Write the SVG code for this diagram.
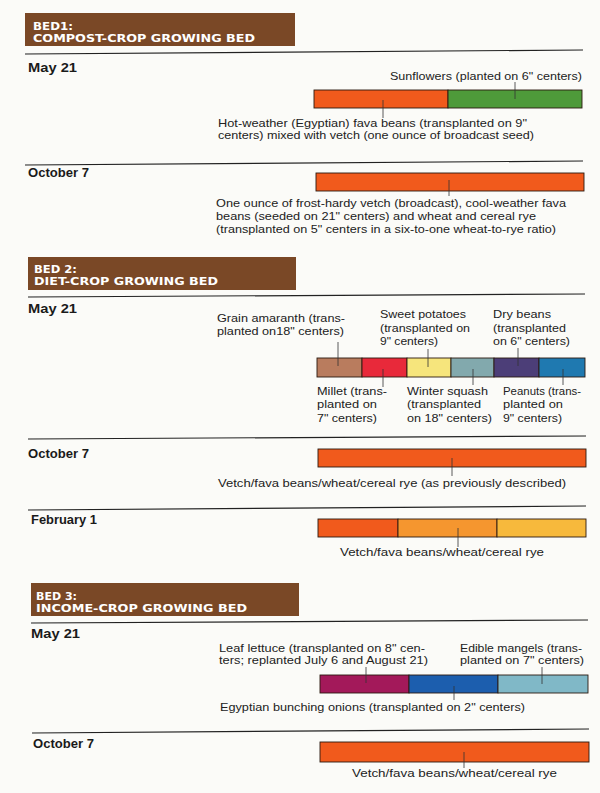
<svg xmlns="http://www.w3.org/2000/svg" width="600" height="793" viewBox="0 0 600 793">
<style>
.bg{fill:#fbfbf8}
.hdr{fill:#7a4826}
.ht{font-family:"DejaVu Sans","Liberation Sans",sans-serif;font-weight:bold;font-size:10px;fill:#ffffff}
.date{font-family:"Liberation Sans",Arial,sans-serif;font-weight:bold;font-size:13px;fill:#1a1a1a}
.lbl{font-family:"Liberation Sans",Arial,sans-serif;font-size:11.5px;fill:#222}
.rule{stroke:#222;stroke-width:1.2;fill:none}
.seg{stroke:#2a1a10;stroke-width:0.9}
.tick{stroke:#333;stroke-width:0.8}
</style>
<rect class="bg" x="0" y="0" width="600" height="793"/>

<g id="bed1-header">
<rect class="hdr" x="25" y="13" width="270" height="33"/>
<text class="ht" x="33" y="29.5" textLength="40" lengthAdjust="spacingAndGlyphs">BED1:</text>
<text class="ht" x="33" y="41.5" textLength="222" lengthAdjust="spacingAndGlyphs">COMPOST-CROP GROWING BED</text>
</g>
<line class="rule" x1="25" y1="54" x2="583" y2="50"/>

<g id="bed1-may">
<text class="date" x="28" y="72" textLength="49" lengthAdjust="spacingAndGlyphs">May 21</text>
<rect class="seg" x="314" y="90" width="134" height="18" fill="#f15a1c"/>
<rect class="seg" x="448" y="90" width="134" height="18" fill="#4e9a3a"/>
<text class="lbl" x="390" y="80" textLength="192" lengthAdjust="spacingAndGlyphs">Sunflowers (planted on 6" centers)</text>
<text class="lbl" x="218" y="127" textLength="309" lengthAdjust="spacingAndGlyphs">Hot-weather (Egyptian) fava beans (transplanted on 9"</text>
<text class="lbl" x="218" y="139" textLength="316" lengthAdjust="spacingAndGlyphs">centers) mixed with vetch (one ounce of broadcast seed)</text>
</g>
<line class="rule" x1="25" y1="165" x2="583" y2="161"/>

<g id="bed1-oct">
<text class="date" x="28" y="177" textLength="61" lengthAdjust="spacingAndGlyphs">October 7</text>
<rect class="seg" x="316" y="173" width="268" height="18" fill="#f15a1c"/>
<text class="lbl" x="216" y="207" textLength="350" lengthAdjust="spacingAndGlyphs">One ounce of frost-hardy vetch (broadcast), cool-weather fava</text>
<text class="lbl" x="216" y="220" textLength="320" lengthAdjust="spacingAndGlyphs">beans (seeded on 21" centers) and wheat and cereal rye</text>
<text class="lbl" x="216" y="233" textLength="340" lengthAdjust="spacingAndGlyphs">(transplanted on 5" centers in a six-to-one wheat-to-rye ratio)</text>
</g>

<g id="bed2-header">
<rect class="hdr" x="28" y="257" width="268" height="33"/>
<text class="ht" x="34" y="272.5" textLength="43" lengthAdjust="spacingAndGlyphs">BED 2:</text>
<text class="ht" x="34" y="284.5" textLength="184" lengthAdjust="spacingAndGlyphs">DIET-CROP GROWING BED</text>
</g>
<line class="rule" x1="28" y1="297" x2="585" y2="294"/>

<g id="bed2-may">
<text class="date" x="28" y="313" textLength="49" lengthAdjust="spacingAndGlyphs">May 21</text>
<rect class="seg" x="317" y="358" width="45" height="19" fill="#b97c5e"/>
<rect class="seg" x="362" y="358" width="45" height="19" fill="#e8293a"/>
<rect class="seg" x="407" y="358" width="44" height="19" fill="#f6e57c"/>
<rect class="seg" x="451" y="358" width="43" height="19" fill="#82a9ad"/>
<rect class="seg" x="494" y="358" width="45" height="19" fill="#4c3e78"/>
<rect class="seg" x="539" y="358" width="46" height="19" fill="#1f79b0"/>
<text class="lbl" x="217" y="322" textLength="128" lengthAdjust="spacingAndGlyphs">Grain amaranth (trans-</text>
<text class="lbl" x="217" y="335" textLength="127" lengthAdjust="spacingAndGlyphs">planted on18" centers)</text>
<text class="lbl" x="380" y="318" textLength="86" lengthAdjust="spacingAndGlyphs">Sweet potatoes</text>
<text class="lbl" x="380" y="332" textLength="90" lengthAdjust="spacingAndGlyphs">(transplanted on</text>
<text class="lbl" x="380" y="345" textLength="58" lengthAdjust="spacingAndGlyphs">9" centers)</text>
<text class="lbl" x="493" y="318" textLength="58" lengthAdjust="spacingAndGlyphs">Dry beans</text>
<text class="lbl" x="493" y="332" textLength="73" lengthAdjust="spacingAndGlyphs">(transplanted</text>
<text class="lbl" x="493" y="345" textLength="77" lengthAdjust="spacingAndGlyphs">on 6" centers)</text>
<text class="lbl" x="317" y="395" textLength="70" lengthAdjust="spacingAndGlyphs">Millet (trans-</text>
<text class="lbl" x="317" y="408" textLength="60" lengthAdjust="spacingAndGlyphs">planted on</text>
<text class="lbl" x="317" y="422" textLength="60" lengthAdjust="spacingAndGlyphs">7" centers)</text>
<text class="lbl" x="407" y="395" textLength="81" lengthAdjust="spacingAndGlyphs">Winter squash</text>
<text class="lbl" x="407" y="408" textLength="74" lengthAdjust="spacingAndGlyphs">(transplanted</text>
<text class="lbl" x="407" y="422" textLength="85" lengthAdjust="spacingAndGlyphs">on 18" centers)</text>
<text class="lbl" x="503" y="395" textLength="78" lengthAdjust="spacingAndGlyphs">Peanuts (trans-</text>
<text class="lbl" x="503" y="408" textLength="60" lengthAdjust="spacingAndGlyphs">planted on</text>
<text class="lbl" x="503" y="422" textLength="59" lengthAdjust="spacingAndGlyphs">9" centers)</text>
</g>
<line class="rule" x1="28" y1="439" x2="586" y2="436"/>

<g id="bed2-oct">
<text class="date" x="28" y="458" textLength="61" lengthAdjust="spacingAndGlyphs">October 7</text>
<rect class="seg" x="318" y="449" width="268" height="18" fill="#f15a1c"/>
<text class="lbl" x="218" y="487" textLength="348" lengthAdjust="spacingAndGlyphs">Vetch/fava beans/wheat/cereal rye (as previously described)</text>
</g>
<line class="rule" x1="28" y1="510" x2="586" y2="506"/>

<g id="bed2-feb">
<text class="date" x="31" y="524" textLength="66" lengthAdjust="spacingAndGlyphs">February 1</text>
<rect class="seg" x="318" y="519" width="80" height="18" fill="#f15a1c"/>
<rect class="seg" x="398" y="519" width="99" height="18" fill="#f5962f"/>
<rect class="seg" x="497" y="519" width="89" height="18" fill="#f7b93c"/>
<text class="lbl" x="340" y="556" textLength="204" lengthAdjust="spacingAndGlyphs">Vetch/fava beans/wheat/cereal rye</text>
</g>

<g id="bed3-header">
<rect class="hdr" x="31" y="583" width="268" height="33"/>
<text class="ht" x="36" y="600" textLength="41" lengthAdjust="spacingAndGlyphs">BED 3:</text>
<text class="ht" x="36" y="612" textLength="211" lengthAdjust="spacingAndGlyphs">INCOME-CROP GROWING BED</text>
</g>
<line class="rule" x1="31" y1="623" x2="588" y2="620"/>

<g id="bed3-may">
<text class="date" x="31" y="638" textLength="49" lengthAdjust="spacingAndGlyphs">May 21</text>
<rect class="seg" x="320" y="675" width="89" height="18" fill="#a3195a"/>
<rect class="seg" x="409" y="675" width="89" height="18" fill="#1c5eae"/>
<rect class="seg" x="498" y="675" width="90" height="18" fill="#80b8c7"/>
<text class="lbl" x="219" y="652" textLength="206" lengthAdjust="spacingAndGlyphs">Leaf lettuce (transplanted on 8" cen-</text>
<text class="lbl" x="219" y="664" textLength="209" lengthAdjust="spacingAndGlyphs">ters; replanted July 6 and August 21)</text>
<text class="lbl" x="460" y="652" textLength="122" lengthAdjust="spacingAndGlyphs">Edible mangels (trans-</text>
<text class="lbl" x="460" y="664" textLength="124" lengthAdjust="spacingAndGlyphs">planted on 7" centers)</text>
<text class="lbl" x="220" y="711" textLength="305" lengthAdjust="spacingAndGlyphs">Egyptian bunching onions (transplanted on 2" centers)</text>
</g>
<line class="rule" x1="32" y1="733" x2="589" y2="729"/>

<g id="bed3-oct">
<text class="date" x="33" y="748" textLength="61" lengthAdjust="spacingAndGlyphs">October 7</text>
<rect class="seg" x="320" y="742" width="269" height="20" fill="#f15a1c"/>
<text class="lbl" x="352" y="777" textLength="205" lengthAdjust="spacingAndGlyphs">Vetch/fava beans/wheat/cereal rye</text>
</g>

<g id="connectors">
<line class="tick" x1="515" y1="82" x2="515" y2="99"/>
<line class="tick" x1="383" y1="100" x2="383" y2="118"/>
<line class="tick" x1="449" y1="180" x2="449" y2="196"/>
<line class="tick" x1="338" y1="342" x2="338" y2="366"/>
<line class="tick" x1="428" y1="349" x2="428" y2="367"/>
<line class="tick" x1="518" y1="348" x2="518" y2="366"/>
<line class="tick" x1="383" y1="369" x2="383" y2="387"/>
<line class="tick" x1="473" y1="369" x2="473" y2="385"/>
<line class="tick" x1="563" y1="369" x2="563" y2="385"/>
<line class="tick" x1="452" y1="458" x2="452" y2="476"/>
<line class="tick" x1="458" y1="528" x2="458" y2="547"/>
<line class="tick" x1="366" y1="667" x2="366" y2="683"/>
<line class="tick" x1="542" y1="667" x2="542" y2="684"/>
<line class="tick" x1="454" y1="686" x2="454" y2="700"/>
<line class="tick" x1="464" y1="752" x2="464" y2="768"/>
</g>
</svg>
